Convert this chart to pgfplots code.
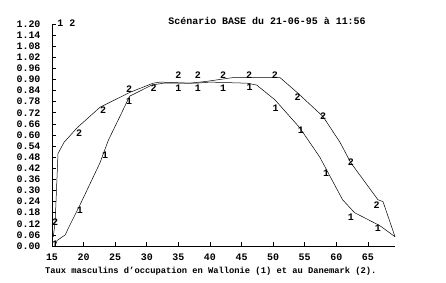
\documentclass[border=0pt]{standalone}
\usepackage{pgfplots}
\pgfplotsset{compat=1.18}
\usepackage{fontspec}
\setmainfont{Liberation Mono}
\setmonofont{Liberation Mono}
\begin{document}
\begin{tikzpicture}
\begin{axis}[
  name=ax,
  scale only axis,
  width=343bp, height=222bp,
  xmin=15, xmax=69.3,
  ymin=0, ymax=1.2,
  axis lines=left,
  axis line style={-, line width=0.8pt},
  tick align=inside,
  major tick length=4bp,
  tick style={black, line width=0.6pt},
  xtick={15,20,...,65},
  ytick={0,0.06,0.12,0.18,0.24,0.30,0.36,0.42,0.48,0.54,0.60,0.66,0.72,0.78,0.84,0.90,0.96,1.02,1.08,1.14,1.20},
  /pgf/number format/assume math mode=true,
  yticklabel style={/pgf/number format/fixed, /pgf/number format/precision=2, /pgf/number format/fixed zerofill, font=\fontsize{10}{10}\selectfont\bfseries, xshift=-8bp},
  xticklabel style={font=\fontsize{10}{10}\selectfont\bfseries, yshift=-4bp},
  clip=false,
]
% Wallonie (1)
\addplot[black, line width=0.5pt] coordinates {
 (15.5,0.0) (15.8,0.03) (17.1,0.06) (17.5,0.09) (19.4,0.22) (22.6,0.45) (23.9,0.57)
 (27.3,0.81) (30.8,0.87) (32.6,0.88) (37.9,0.88) (40.0,0.886) (45.9,0.88) (47.4,0.87)
 (50.3,0.79) (54.2,0.64) (57.4,0.48) (61.0,0.25) (62.9,0.18) (66.9,0.11) (69.3,0.05)
};
% Danemark (2)
\addplot[black, line width=0.5pt] coordinates {
 (15.2,0.05) (15.5,0.13) (15.95,0.50) (16.9,0.56) (19.0,0.64) (22.6,0.75) (27.3,0.83)
 (31.0,0.88) (32.1,0.886) (36.8,0.88) (39.5,0.89) (43.6,0.91) (49.5,0.91) (51.1,0.91)
 (53.8,0.83) (57.9,0.70) (60.6,0.56) (62.3,0.45) (66.6,0.25) (67.4,0.24) (69.3,0.05)
};
% labels 1
\addplot[only marks, mark=text, text mark={\fontsize{10}{10}\selectfont\bfseries 1}] coordinates {
 (15.5,0.01) (19.4,0.195) (23.4,0.49) (27.2,0.785) (35,0.855) (38.1,0.855) (42.1,0.855)
 (46.3,0.86) (50.4,0.745) (54.4,0.627) (58.4,0.395) (62.3,0.157) (66.6,0.097)
};
% labels 2
\addplot[only marks, mark=text, text mark={\fontsize{10}{10}\selectfont\bfseries 2}] coordinates {
 (15.5,0.13) (19.3,0.61) (23.1,0.735) (27.2,0.85) (31.1,0.855) (35,0.925) (38.1,0.925)
 (42.1,0.925) (46.2,0.925) (50.3,0.925) (53.9,0.805) (57.9,0.70) (62.3,0.455) (66.4,0.22)
};
\node[anchor=west, font=\fontsize{10}{10}\selectfont\bfseries, inner sep=0pt] at (rel axis cs:0.015,1.005) {1 2};
\node[font=\fontsize{10}{10}\selectfont\bfseries, inner sep=0pt] at (rel axis cs:0.627,1.012) {Scénario BASE du 21-06-95 à 11:56};
\node[font=\fontsize{8.8}{9}\selectfont\bfseries, inner sep=0pt] at (rel axis cs:0.463,-0.115) {Taux masculins d'occupation en Wallonie (1) et au Danemark (2).};
\end{axis}
\path[use as bounding box] ([xshift=-52bp,yshift=-37bp]ax.south west) rectangle ([xshift=51bp,yshift=24bp]ax.north east);
\end{tikzpicture}
\end{document}
